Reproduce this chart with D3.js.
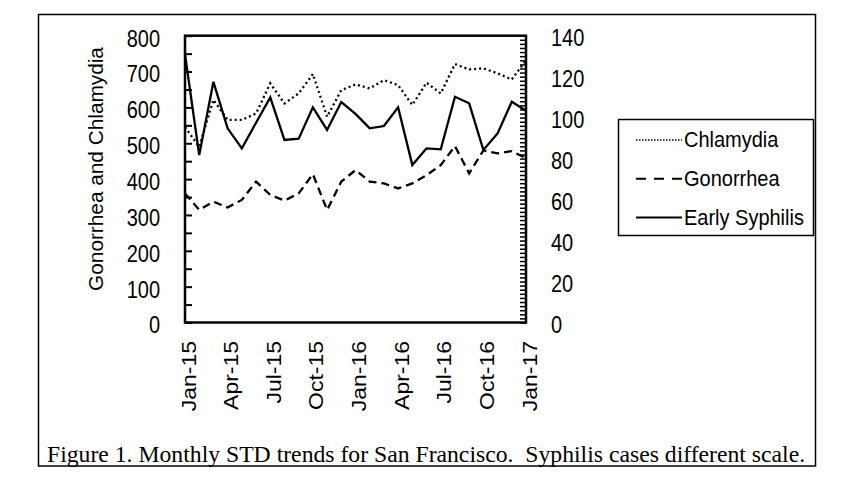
<!DOCTYPE html>
<html>
<head>
<meta charset="utf-8">
<script src="https://cdn.jsdelivr.net/npm/d3@7"></script>
<style>
  body { margin: 0; background: #fff; }
  text { font-family: "Liberation Sans", Arial, sans-serif; fill: #000; }
</style>
</head>
<body>
<div class="chart"></div>
<script>
// monthly categories and the tick labels shown on the x axis
const months = ["Jan-15","Feb-15","Mar-15","Apr-15","May-15","Jun-15","Jul-15","Aug-15","Sep-15","Oct-15","Nov-15","Dec-15",
  "Jan-16","Feb-16","Mar-16","Apr-16","May-16","Jun-16","Jul-16","Aug-16","Sep-16","Oct-16","Nov-16","Dec-16","Jan-17"];
const monthTicks = ["Jan-15","Apr-15","Jul-15","Oct-15","Jan-16","Apr-16","Jul-16","Oct-16","Jan-17"];

// series values
const chlamydia = [545, 490, 621, 565, 565, 583, 667, 611, 639, 693, 574, 648, 664, 653, 676, 662, 607, 669, 639, 721, 706, 709, 695, 678, 732];
const gonorrhea = [360, 314, 337, 321, 342, 393, 356, 340, 360, 414, 314, 393, 425, 393, 388, 374, 388, 411, 439, 492, 416, 480, 472, 478, 458];
const syphilis  = [131, 81.7, 117.5, 94.8, 85, 97.5, 109.9, 89.1, 89.7, 105, 94, 107.6, 101.8, 94.8, 95.9, 105, 76.9, 85, 84.5, 110.2, 107, 84.2, 92.3, 107.8, 103.4];

const leftTicks = [0, 100, 200, 300, 400, 500, 600, 700, 800];
const rightTicks = [0, 20, 40, 60, 80, 100, 120, 140];

const width = 853, height = 477;
const plot = {left: 185, right: 526, top: 35.7, bottom: 322.5};
const fontSize = 20;
const tall = 1.15; // the chart's text looks a bit stretched vertically

const svg = d3.select(".chart")
  .append("svg")
    .attr("width", width)
    .attr("height", height);

// outer frame
svg.append("rect")
  .attr("x", 38.5).attr("y", 14.5)
  .attr("width", 777).attr("height", 451.5)
  .attr("fill", "none").attr("stroke", "#000").attr("stroke-width", 1.5);

const x = d3.scalePoint()
  .domain(months)
  .range([plot.left, plot.right]);

const yLeft = d3.scaleLinear()
  .domain([0, 800])
  .range([plot.bottom, plot.top]);

const yRight = d3.scaleLinear()
  .domain([0, 140])
  .range([plot.bottom, plot.top]);

// left minor ticks (pointing inward)
svg.append("g")
  .attr("transform", `translate(${plot.left},0)`)
  .call(d3.axisRight(yLeft).tickValues(d3.range(0, 801, 50)).tickSize(7).tickFormat(""))
  .call(g => g.select(".domain").remove())
  .selectAll("line").attr("stroke-width", 2);

// left labels
svg.append("g")
  .attr("transform", `translate(${plot.left},0)`)
  .call(d3.axisLeft(yLeft).tickValues(leftTicks).tickSize(0).tickPadding(25))
  .call(g => g.select(".domain").remove())
  .selectAll("text")
    .attr("font-size", fontSize)
    .attr("font-family", "Liberation Sans, Arial, sans-serif")
    .attr("y", 2)
    .attr("dy", "0.35em")
    .attr("transform", `scale(1,${tall})`);

// right minor ticks (pointing inward)
svg.append("g")
  .attr("transform", `translate(${plot.right},0)`)
  .call(d3.axisLeft(yRight).tickValues(d3.range(0, 141, 2)).tickSize(6).tickFormat(""))
  .call(g => g.select(".domain").remove())
  .selectAll("line").attr("stroke-width", 1.5);

// right labels
svg.append("g")
  .attr("transform", `translate(${plot.right},0)`)
  .call(d3.axisRight(yRight).tickValues(rightTicks).tickSize(0).tickPadding(25))
  .call(g => g.select(".domain").remove())
  .selectAll("text")
    .attr("font-size", fontSize)
    .attr("font-family", "Liberation Sans, Arial, sans-serif")
    .attr("y", 1.5)
    .attr("dy", "0.35em")
    .attr("transform", `scale(1,${tall})`);

// x axis labels, rotated
svg.append("g")
  .attr("transform", `translate(0,${plot.bottom})`)
  .call(d3.axisBottom(x).tickValues(monthTicks).tickSize(0))
  .call(g => g.select(".domain").remove())
  .selectAll("text")
    .attr("font-size", fontSize)
    .attr("font-family", "Liberation Sans, Arial, sans-serif")
    .attr("text-anchor", "end")
    .attr("x", -16)
    .attr("y", 10)
    .attr("dy", 0)
    .attr("transform", `scale(1,${tall}) rotate(-90)`);

// plot border
svg.append("rect")
  .attr("x", plot.left).attr("y", plot.top)
  .attr("width", plot.right - plot.left).attr("height", plot.bottom - plot.top)
  .attr("fill", "none").attr("stroke", "#000").attr("stroke-width", 2.5);

// y axis title
svg.append("text")
  .attr("transform", "translate(103,169) scale(1,1.04) rotate(-90)")
  .attr("text-anchor", "middle")
  .attr("font-size", fontSize)
  .text("Gonorrhea and Chlamydia");

// lines
const lineLeft = d3.line().x((d, i) => x(months[i])).y(d => yLeft(d));
const lineRight = d3.line().x((d, i) => x(months[i])).y(d => yRight(d));

const series = [
  {name: "Chlamydia", values: chlamydia, line: lineLeft, dash: "2,3", legendDash: "1.5,1.5", legendWidth: 1.5},
  {name: "Gonorrhea", values: gonorrhea, line: lineLeft, dash: "8,5", legendDash: "10,8", legendWidth: 2},
  {name: "Early Syphilis", values: syphilis, line: lineRight, dash: null, legendDash: null, legendWidth: 2}
];

svg.selectAll("path.series")
  .data(series)
  .enter()
  .append("path")
    .attr("class", "series")
    .attr("d", d => d.line(d.values))
    .attr("fill", "none")
    .attr("stroke", "#000")
    .attr("stroke-width", 2.3)
    .attr("stroke-dasharray", d => d.dash)
    .attr("stroke-linejoin", "miter");

// legend
const legend = svg.append("g");
legend.append("rect")
  .attr("x", 618.5).attr("y", 119.5)
  .attr("width", 195).attr("height", 116)
  .attr("fill", "#fff").attr("stroke", "#000").attr("stroke-width", 1.5);

const legendY = d3.scalePoint().domain(series.map(d => d.name)).range([140, 217.5]);

const item = legend.selectAll("g.item")
  .data(series)
  .enter()
  .append("g")
    .attr("class", "item")
    .attr("transform", d => `translate(0,${legendY(d.name)})`);

item.append("line")
  .attr("x1", 636).attr("x2", 682)
  .attr("stroke", "#000")
  .attr("stroke-width", d => d.legendWidth)
  .attr("stroke-dasharray", d => d.legendDash);

item.append("text")
  .attr("transform", "translate(684,7) scale(1,1.08)")
  .attr("font-size", fontSize)
  .text(d => d.name);

// caption
svg.append("text")
  .attr("x", 47)
  .attr("y", 462)
  .attr("font-size", 23.7)
  .style("font-family", "Liberation Serif, Times New Roman, serif")
  .style("white-space", "pre")
  .text("Figure 1. Monthly STD trends for San Francisco.  Syphilis cases different scale.");
</script>
</body>
</html>
